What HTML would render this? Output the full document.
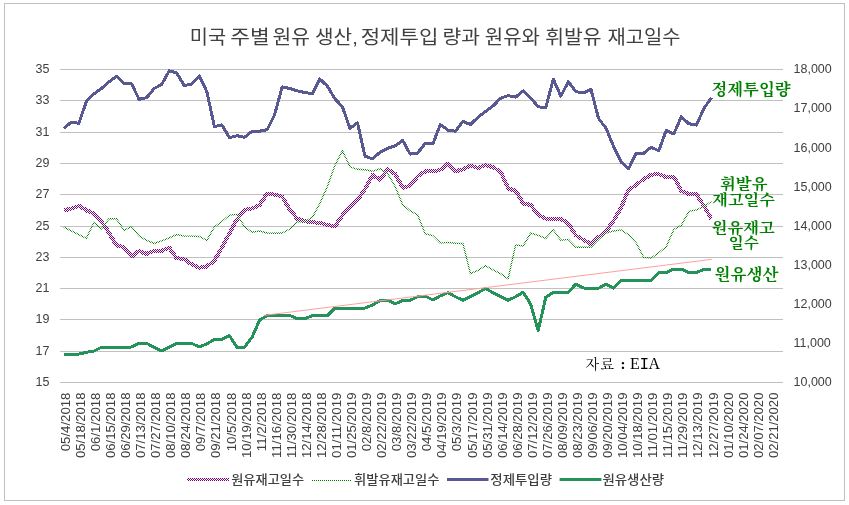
<!DOCTYPE html><html><head><meta charset="utf-8"><style>html,body{margin:0;padding:0;background:#fff;width:849px;height:505px;overflow:hidden}svg{display:block}.s{font-family:"Liberation Sans","Noto Sans CJK KR",sans-serif}.k{font-family:"Liberation Sans","Noto Sans CJK KR",sans-serif}.m{font-family:"Liberation Serif","Noto Serif CJK SC",serif}</style></head><body>
<svg width="849" height="505" viewBox="0 0 849 505">
<defs><pattern id="chk" patternUnits="userSpaceOnUse" width="2" height="2"><rect x="0" y="0" width="1" height="1" fill="#800080"/><rect x="1" y="1" width="1" height="1" fill="#800080"/></pattern><pattern id="chg" patternUnits="userSpaceOnUse" width="2" height="2"><rect x="0" y="0" width="1" height="1" fill="#007f00"/><rect x="1" y="1" width="1" height="1" fill="#007f00"/></pattern></defs>
<rect x="0" y="0" width="849" height="505" fill="#fff"/>
<rect x="4.5" y="3.5" width="840" height="497" fill="none" stroke="#c0c0c0" stroke-width="1"/>
<g><text x="189.7" y="43.8" class="k" font-size="18.8" fill="#404040" textLength="36.4" lengthAdjust="spacingAndGlyphs">미국</text><text x="230.2" y="43.8" class="k" font-size="18.8" fill="#404040" textLength="39.4" lengthAdjust="spacingAndGlyphs">주별</text><text x="272.6" y="43.8" class="k" font-size="18.8" fill="#404040" textLength="37.4" lengthAdjust="spacingAndGlyphs">원유</text><text x="315.0" y="43.8" class="k" font-size="18.8" fill="#404040" textLength="42.8" lengthAdjust="spacingAndGlyphs">생산,</text><text x="360.7" y="43.8" class="k" font-size="18.8" fill="#404040" textLength="77.7" lengthAdjust="spacingAndGlyphs">정제투입</text><text x="442.6" y="43.8" class="k" font-size="18.8" fill="#404040" textLength="37.4" lengthAdjust="spacingAndGlyphs">량과</text><text x="484.8" y="43.8" class="k" font-size="18.8" fill="#404040" textLength="55.1" lengthAdjust="spacingAndGlyphs">원유와</text><text x="545.2" y="43.8" class="k" font-size="18.8" fill="#404040" textLength="56.4" lengthAdjust="spacingAndGlyphs">휘발유</text><text x="607.4" y="43.8" class="k" font-size="18.8" fill="#404040" textLength="73.1" lengthAdjust="spacingAndGlyphs">재고일수</text></g>
<line x1="60" y1="69.5" x2="783" y2="69.5" stroke="#c0c0c0" stroke-width="1"/>
<line x1="60" y1="100.5" x2="783" y2="100.5" stroke="#c0c0c0" stroke-width="1"/>
<line x1="60" y1="132.5" x2="783" y2="132.5" stroke="#c0c0c0" stroke-width="1"/>
<line x1="60" y1="163.5" x2="783" y2="163.5" stroke="#c0c0c0" stroke-width="1"/>
<line x1="60" y1="194.5" x2="783" y2="194.5" stroke="#c0c0c0" stroke-width="1"/>
<line x1="60" y1="226.5" x2="783" y2="226.5" stroke="#c0c0c0" stroke-width="1"/>
<line x1="60" y1="257.5" x2="783" y2="257.5" stroke="#c0c0c0" stroke-width="1"/>
<line x1="60" y1="288.5" x2="783" y2="288.5" stroke="#c0c0c0" stroke-width="1"/>
<line x1="60" y1="319.5" x2="783" y2="319.5" stroke="#c0c0c0" stroke-width="1"/>
<line x1="60" y1="351.5" x2="783" y2="351.5" stroke="#c0c0c0" stroke-width="1"/>
<line x1="60" y1="382.5" x2="783" y2="382.5" stroke="#c0c0c0" stroke-width="1"/>
<text x="49.5" y="73.0" text-anchor="end" class="s" font-size="12.5" fill="#404040">35</text>
<text x="49.5" y="104.0" text-anchor="end" class="s" font-size="12.5" fill="#404040">33</text>
<text x="49.5" y="136.0" text-anchor="end" class="s" font-size="12.5" fill="#404040">31</text>
<text x="49.5" y="167.0" text-anchor="end" class="s" font-size="12.5" fill="#404040">29</text>
<text x="49.5" y="198.0" text-anchor="end" class="s" font-size="12.5" fill="#404040">27</text>
<text x="49.5" y="230.0" text-anchor="end" class="s" font-size="12.5" fill="#404040">25</text>
<text x="49.5" y="261.0" text-anchor="end" class="s" font-size="12.5" fill="#404040">23</text>
<text x="49.5" y="292.0" text-anchor="end" class="s" font-size="12.5" fill="#404040">21</text>
<text x="49.5" y="323.0" text-anchor="end" class="s" font-size="12.5" fill="#404040">19</text>
<text x="49.5" y="355.0" text-anchor="end" class="s" font-size="12.5" fill="#404040">17</text>
<text x="49.5" y="386.0" text-anchor="end" class="s" font-size="12.5" fill="#404040">15</text>
<text x="793.5" y="73.3" class="s" font-size="12.5" fill="#404040">18,000</text>
<text x="793.5" y="112.4" class="s" font-size="12.5" fill="#404040">17,000</text>
<text x="793.5" y="151.5" class="s" font-size="12.5" fill="#404040">16,000</text>
<text x="793.5" y="190.6" class="s" font-size="12.5" fill="#404040">15,000</text>
<text x="793.5" y="229.7" class="s" font-size="12.5" fill="#404040">14,000</text>
<text x="793.5" y="268.9" class="s" font-size="12.5" fill="#404040">13,000</text>
<text x="793.5" y="308.0" class="s" font-size="12.5" fill="#404040">12,000</text>
<text x="793.5" y="347.1" class="s" font-size="12.5" fill="#404040">11,000</text>
<text x="793.5" y="386.2" class="s" font-size="12.5" fill="#404040">10,000</text>
<text transform="translate(69.87,392.6) rotate(-90)" text-anchor="end" class="s" font-size="12" fill="#404040" textLength="58.7" lengthAdjust="spacingAndGlyphs">05/4/2018</text>
<text transform="translate(84.93,392.6) rotate(-90)" text-anchor="end" class="s" font-size="12" fill="#404040" textLength="65.4" lengthAdjust="spacingAndGlyphs">05/18/2018</text>
<text transform="translate(99.99,392.6) rotate(-90)" text-anchor="end" class="s" font-size="12" fill="#404040" textLength="58.7" lengthAdjust="spacingAndGlyphs">06/1/2018</text>
<text transform="translate(115.06,392.6) rotate(-90)" text-anchor="end" class="s" font-size="12" fill="#404040" textLength="65.4" lengthAdjust="spacingAndGlyphs">06/15/2018</text>
<text transform="translate(130.12,392.6) rotate(-90)" text-anchor="end" class="s" font-size="12" fill="#404040" textLength="65.4" lengthAdjust="spacingAndGlyphs">06/29/2018</text>
<text transform="translate(145.18,392.6) rotate(-90)" text-anchor="end" class="s" font-size="12" fill="#404040" textLength="65.4" lengthAdjust="spacingAndGlyphs">07/13/2018</text>
<text transform="translate(160.24,392.6) rotate(-90)" text-anchor="end" class="s" font-size="12" fill="#404040" textLength="65.4" lengthAdjust="spacingAndGlyphs">07/27/2018</text>
<text transform="translate(175.30,392.6) rotate(-90)" text-anchor="end" class="s" font-size="12" fill="#404040" textLength="65.4" lengthAdjust="spacingAndGlyphs">08/10/2018</text>
<text transform="translate(190.37,392.6) rotate(-90)" text-anchor="end" class="s" font-size="12" fill="#404040" textLength="65.4" lengthAdjust="spacingAndGlyphs">08/24/2018</text>
<text transform="translate(205.43,392.6) rotate(-90)" text-anchor="end" class="s" font-size="12" fill="#404040" textLength="58.7" lengthAdjust="spacingAndGlyphs">09/7/2018</text>
<text transform="translate(220.49,392.6) rotate(-90)" text-anchor="end" class="s" font-size="12" fill="#404040" textLength="65.4" lengthAdjust="spacingAndGlyphs">09/21/2018</text>
<text transform="translate(235.55,392.6) rotate(-90)" text-anchor="end" class="s" font-size="12" fill="#404040" textLength="58.7" lengthAdjust="spacingAndGlyphs">10/5/2018</text>
<text transform="translate(250.61,392.6) rotate(-90)" text-anchor="end" class="s" font-size="12" fill="#404040" textLength="65.4" lengthAdjust="spacingAndGlyphs">10/19/2018</text>
<text transform="translate(265.68,392.6) rotate(-90)" text-anchor="end" class="s" font-size="12" fill="#404040" textLength="58.7" lengthAdjust="spacingAndGlyphs">11/2/2018</text>
<text transform="translate(280.74,392.6) rotate(-90)" text-anchor="end" class="s" font-size="12" fill="#404040" textLength="65.4" lengthAdjust="spacingAndGlyphs">11/16/2018</text>
<text transform="translate(295.80,392.6) rotate(-90)" text-anchor="end" class="s" font-size="12" fill="#404040" textLength="65.4" lengthAdjust="spacingAndGlyphs">11/30/2018</text>
<text transform="translate(310.86,392.6) rotate(-90)" text-anchor="end" class="s" font-size="12" fill="#404040" textLength="65.4" lengthAdjust="spacingAndGlyphs">12/14/2018</text>
<text transform="translate(325.92,392.6) rotate(-90)" text-anchor="end" class="s" font-size="12" fill="#404040" textLength="65.4" lengthAdjust="spacingAndGlyphs">12/28/2018</text>
<text transform="translate(340.99,392.6) rotate(-90)" text-anchor="end" class="s" font-size="12" fill="#404040" textLength="65.4" lengthAdjust="spacingAndGlyphs">01/11/2019</text>
<text transform="translate(356.05,392.6) rotate(-90)" text-anchor="end" class="s" font-size="12" fill="#404040" textLength="65.4" lengthAdjust="spacingAndGlyphs">01/25/2019</text>
<text transform="translate(371.11,392.6) rotate(-90)" text-anchor="end" class="s" font-size="12" fill="#404040" textLength="58.7" lengthAdjust="spacingAndGlyphs">02/8/2019</text>
<text transform="translate(386.17,392.6) rotate(-90)" text-anchor="end" class="s" font-size="12" fill="#404040" textLength="65.4" lengthAdjust="spacingAndGlyphs">02/22/2019</text>
<text transform="translate(401.23,392.6) rotate(-90)" text-anchor="end" class="s" font-size="12" fill="#404040" textLength="58.7" lengthAdjust="spacingAndGlyphs">03/8/2019</text>
<text transform="translate(416.30,392.6) rotate(-90)" text-anchor="end" class="s" font-size="12" fill="#404040" textLength="65.4" lengthAdjust="spacingAndGlyphs">03/22/2019</text>
<text transform="translate(431.36,392.6) rotate(-90)" text-anchor="end" class="s" font-size="12" fill="#404040" textLength="58.7" lengthAdjust="spacingAndGlyphs">04/5/2019</text>
<text transform="translate(446.42,392.6) rotate(-90)" text-anchor="end" class="s" font-size="12" fill="#404040" textLength="65.4" lengthAdjust="spacingAndGlyphs">04/19/2019</text>
<text transform="translate(461.48,392.6) rotate(-90)" text-anchor="end" class="s" font-size="12" fill="#404040" textLength="58.7" lengthAdjust="spacingAndGlyphs">05/3/2019</text>
<text transform="translate(476.54,392.6) rotate(-90)" text-anchor="end" class="s" font-size="12" fill="#404040" textLength="65.4" lengthAdjust="spacingAndGlyphs">05/17/2019</text>
<text transform="translate(491.61,392.6) rotate(-90)" text-anchor="end" class="s" font-size="12" fill="#404040" textLength="65.4" lengthAdjust="spacingAndGlyphs">05/31/2019</text>
<text transform="translate(506.67,392.6) rotate(-90)" text-anchor="end" class="s" font-size="12" fill="#404040" textLength="65.4" lengthAdjust="spacingAndGlyphs">06/14/2019</text>
<text transform="translate(521.73,392.6) rotate(-90)" text-anchor="end" class="s" font-size="12" fill="#404040" textLength="65.4" lengthAdjust="spacingAndGlyphs">06/28/2019</text>
<text transform="translate(536.79,392.6) rotate(-90)" text-anchor="end" class="s" font-size="12" fill="#404040" textLength="65.4" lengthAdjust="spacingAndGlyphs">07/12/2019</text>
<text transform="translate(551.85,392.6) rotate(-90)" text-anchor="end" class="s" font-size="12" fill="#404040" textLength="65.4" lengthAdjust="spacingAndGlyphs">07/26/2019</text>
<text transform="translate(566.92,392.6) rotate(-90)" text-anchor="end" class="s" font-size="12" fill="#404040" textLength="65.4" lengthAdjust="spacingAndGlyphs">08/09/2019</text>
<text transform="translate(581.98,392.6) rotate(-90)" text-anchor="end" class="s" font-size="12" fill="#404040" textLength="65.4" lengthAdjust="spacingAndGlyphs">08/23/2019</text>
<text transform="translate(597.04,392.6) rotate(-90)" text-anchor="end" class="s" font-size="12" fill="#404040" textLength="65.4" lengthAdjust="spacingAndGlyphs">09/06/2019</text>
<text transform="translate(612.10,392.6) rotate(-90)" text-anchor="end" class="s" font-size="12" fill="#404040" textLength="65.4" lengthAdjust="spacingAndGlyphs">09/20/2019</text>
<text transform="translate(627.16,392.6) rotate(-90)" text-anchor="end" class="s" font-size="12" fill="#404040" textLength="65.4" lengthAdjust="spacingAndGlyphs">10/04/2019</text>
<text transform="translate(642.23,392.6) rotate(-90)" text-anchor="end" class="s" font-size="12" fill="#404040" textLength="65.4" lengthAdjust="spacingAndGlyphs">10/18/2019</text>
<text transform="translate(657.29,392.6) rotate(-90)" text-anchor="end" class="s" font-size="12" fill="#404040" textLength="65.4" lengthAdjust="spacingAndGlyphs">11/01/2019</text>
<text transform="translate(672.35,392.6) rotate(-90)" text-anchor="end" class="s" font-size="12" fill="#404040" textLength="65.4" lengthAdjust="spacingAndGlyphs">11/15/2019</text>
<text transform="translate(687.41,392.6) rotate(-90)" text-anchor="end" class="s" font-size="12" fill="#404040" textLength="65.4" lengthAdjust="spacingAndGlyphs">11/29/2019</text>
<text transform="translate(702.47,392.6) rotate(-90)" text-anchor="end" class="s" font-size="12" fill="#404040" textLength="65.4" lengthAdjust="spacingAndGlyphs">12/13/2019</text>
<text transform="translate(717.54,392.6) rotate(-90)" text-anchor="end" class="s" font-size="12" fill="#404040" textLength="65.4" lengthAdjust="spacingAndGlyphs">12/27/2019</text>
<text transform="translate(732.60,392.6) rotate(-90)" text-anchor="end" class="s" font-size="12" fill="#404040" textLength="65.4" lengthAdjust="spacingAndGlyphs">01/10/2020</text>
<text transform="translate(747.66,392.6) rotate(-90)" text-anchor="end" class="s" font-size="12" fill="#404040" textLength="65.4" lengthAdjust="spacingAndGlyphs">01/24/2020</text>
<text transform="translate(762.72,392.6) rotate(-90)" text-anchor="end" class="s" font-size="12" fill="#404040" textLength="65.4" lengthAdjust="spacingAndGlyphs">02/07/2020</text>
<text transform="translate(777.78,392.6) rotate(-90)" text-anchor="end" class="s" font-size="12" fill="#404040" textLength="65.4" lengthAdjust="spacingAndGlyphs">02/21/2020</text>
<polyline points="63.77,210.30 71.30,208.70 78.83,205.80 86.36,210.30 93.89,213.40 101.43,221.70 108.96,232.70 116.49,245.70 124.02,247.00 131.55,256.50 139.08,250.90 146.61,254.10 154.14,250.60 161.67,250.70 169.20,247.70 176.73,258.30 184.27,259.10 191.80,264.40 199.33,267.80 206.86,266.50 214.39,260.50 221.92,247.50 229.45,233.30 236.98,219.30 244.51,210.10 252.05,208.50 259.58,205.00 267.11,193.50 274.64,194.60 282.17,196.60 289.70,209.50 297.23,218.80 304.76,221.30 312.29,222.00 319.82,223.00 327.35,224.80 334.89,226.50 342.42,215.30 349.95,207.00 357.48,200.30 365.01,189.10 372.54,175.10 380.07,179.60 387.60,169.30 395.13,173.80 402.66,187.70 410.20,185.60 417.73,176.10 425.26,171.40 432.79,171.40 440.32,169.80 447.85,163.90 455.38,171.40 462.91,169.30 470.44,165.50 477.97,168.20 485.51,165.00 493.04,167.40 500.57,171.40 508.10,188.30 515.63,190.90 523.16,203.40 530.69,205.00 538.22,214.50 545.75,218.80 553.28,218.80 560.82,218.80 568.35,223.50 575.88,235.40 583.41,239.80 590.94,244.10 598.47,237.30 606.00,231.40 613.53,220.90 621.06,207.60 628.59,189.80 636.13,185.00 643.66,179.00 651.19,174.70 658.72,174.20 666.25,177.10 673.78,176.60 681.31,190.90 688.84,194.00 696.37,194.00 703.90,205.90 711.44,218.90" fill="none" stroke="url(#chk)" stroke-width="4" stroke-linejoin="round" shape-rendering="crispEdges"/>
<polyline points="63.77,227.20 71.30,230.80 78.83,234.60 86.36,238.30 93.89,222.50 101.43,228.80 108.96,218.80 116.49,218.80 124.02,230.40 131.55,226.70 139.08,235.90 146.61,240.30 154.14,243.50 161.67,240.80 169.20,237.90 176.73,234.50 184.27,236.10 191.80,236.10 199.33,236.50 206.86,240.30 214.39,226.90 221.92,221.50 229.45,215.10 236.98,214.40 244.51,226.70 252.05,232.20 259.58,231.00 267.11,233.00 274.64,233.30 282.17,233.00 289.70,229.00 297.23,221.90 304.76,221.70 312.29,217.40 319.82,203.50 327.35,186.50 334.89,165.50 342.42,150.70 349.95,166.80 357.48,169.30 365.01,169.80 372.54,171.30 380.07,168.80 387.60,173.60 395.13,186.50 402.66,204.70 410.20,210.90 417.73,215.00 425.26,234.00 432.79,235.60 440.32,243.10 447.85,242.40 455.38,243.20 462.91,243.50 470.44,273.60 477.97,270.40 485.51,265.70 493.04,269.90 500.57,273.60 508.10,278.80 515.63,245.00 523.16,245.90 530.69,233.10 538.22,235.40 545.75,238.30 553.28,229.90 560.82,240.20 568.35,239.40 575.88,247.30 583.41,247.30 590.94,247.30 598.47,239.40 606.00,233.00 613.53,231.00 621.06,229.90 628.59,234.70 636.13,242.80 643.66,257.40 651.19,258.10 658.72,252.70 666.25,246.70 673.78,229.50 681.31,225.40 688.84,211.40 696.37,209.90 703.90,206.70 711.44,201.50" fill="none" stroke="url(#chg)" stroke-width="1.4"/>
<polyline points="63.77,128.40 71.30,122.10 78.83,123.30 86.36,101.50 93.89,94.00 101.43,88.50 108.96,81.80 116.49,76.30 124.02,83.40 131.55,83.70 139.08,99.30 146.61,97.70 154.14,88.50 161.67,84.50 169.20,70.80 176.73,73.00 184.27,85.60 191.80,84.10 199.33,75.80 206.86,91.70 214.39,126.50 221.92,124.90 229.45,137.60 236.98,135.70 244.51,137.30 252.05,131.20 259.58,131.20 267.11,129.70 274.64,114.60 282.17,86.90 289.70,88.50 297.23,90.90 304.76,92.50 312.29,93.70 319.82,79.00 327.35,86.10 334.89,98.80 342.42,106.70 349.95,128.40 357.48,122.80 365.01,156.20 372.54,158.90 380.07,152.20 387.60,148.30 395.13,145.90 402.66,140.40 410.20,154.10 417.73,153.00 425.26,143.10 432.79,144.00 440.32,124.50 447.85,130.10 455.38,131.20 462.91,121.40 470.44,124.50 477.97,117.30 485.51,111.40 493.04,105.90 500.57,98.30 508.10,95.60 515.63,97.20 523.16,90.90 530.69,98.00 538.22,106.70 545.75,108.00 553.28,79.00 560.82,96.10 568.35,81.70 575.88,91.70 583.41,92.90 590.94,89.20 598.47,118.30 606.00,128.30 613.53,146.30 621.06,162.00 628.59,168.80 636.13,153.30 643.66,153.30 651.19,147.20 658.72,150.90 666.25,130.30 673.78,134.00 681.31,116.80 688.84,123.70 696.37,125.10 703.90,108.60 711.44,97.50" fill="none" stroke="#585893" stroke-width="3" stroke-linejoin="round" shape-rendering="crispEdges"/>
<polyline points="63.77,354.10 71.30,354.10 78.83,354.10 86.36,352.30 93.89,351.00 101.43,347.30 108.96,347.30 116.49,347.30 124.02,347.30 131.55,347.00 139.08,343.30 146.61,343.30 154.14,347.30 161.67,351.00 169.20,347.00 176.73,343.60 184.27,343.50 191.80,343.50 199.33,347.00 206.86,343.80 214.39,339.40 221.92,339.40 229.45,335.60 236.98,347.30 244.51,347.30 252.05,337.20 259.58,320.10 267.11,315.60 274.64,315.30 282.17,315.30 289.70,315.40 297.23,318.80 304.76,318.80 312.29,315.60 319.82,315.60 327.35,315.60 334.89,308.00 342.42,308.00 349.95,308.00 357.48,308.00 365.01,308.00 372.54,305.10 380.07,300.40 387.60,300.10 395.13,304.00 402.66,300.30 410.20,300.30 417.73,296.70 425.26,296.20 432.79,299.90 440.32,295.90 447.85,292.70 455.38,296.70 462.91,300.30 470.44,296.70 477.97,292.70 485.51,288.50 493.04,292.70 500.57,296.70 508.10,300.30 515.63,296.70 523.16,292.20 530.69,304.20 538.22,330.50 545.75,297.30 553.28,292.30 560.82,292.40 568.35,292.40 575.88,284.00 583.41,288.00 590.94,288.30 598.47,288.30 606.00,284.00 613.53,288.20 621.06,280.30 628.59,280.30 636.13,280.40 643.66,280.40 651.19,280.40 658.72,272.50 666.25,272.50 673.78,269.00 681.31,269.00 688.84,272.50 696.37,272.50 703.90,269.30 711.44,269.30" fill="none" stroke="#249259" stroke-width="3" stroke-linejoin="round" shape-rendering="crispEdges"/>
<line x1="264" y1="315.35" x2="711.6" y2="259.36" stroke="#ff9f9f" stroke-width="1"/>
<text x="711.5" y="94.8" class="m" font-weight="bold" font-size="16" fill="#008000" text-anchor="start" textLength="79" lengthAdjust="spacingAndGlyphs">정제투입량</text>
<text x="720" y="189.3" class="m" font-weight="bold" font-size="14.5" fill="#008000" text-anchor="start" textLength="47.5" lengthAdjust="spacingAndGlyphs">휘발유</text>
<text x="712.3" y="205.3" class="m" font-weight="bold" font-size="14.5" fill="#008000" text-anchor="start" textLength="62.5" lengthAdjust="spacingAndGlyphs">재고일수</text>
<text x="711.8" y="232.8" class="m" font-weight="bold" font-size="14.5" fill="#008000" text-anchor="start" textLength="63" lengthAdjust="spacingAndGlyphs">원유재고</text>
<text x="728.5" y="247.5" class="m" font-weight="bold" font-size="14.5" fill="#008000" text-anchor="start" textLength="30.3" lengthAdjust="spacingAndGlyphs">일수</text>
<text x="714.5" y="280.2" class="m" font-weight="bold" font-size="15.5" fill="#008000" text-anchor="start" textLength="64" lengthAdjust="spacingAndGlyphs">원유생산</text>
<text y="369" class="m" fill="#000"><tspan x="585.4 600.6" font-size="14">자료</tspan><tspan x="614 620.6 626" font-size="15" font-weight="bold"> : </tspan><tspan x="630" font-size="16" style="font-family:'Liberation Serif',serif">E</tspan><tspan x="639.4" font-size="16" style="font-family:'Liberation Mono',monospace">I</tspan><tspan x="648.4" font-size="16" style="font-family:'Liberation Serif',serif">A</tspan></text>
<rect x="187" y="478" width="42" height="3" fill="url(#chk)"/>
<text x="231.2" y="484.3" class="k" font-size="12.6" font-weight="500" fill="#404040" textLength="73" lengthAdjust="spacingAndGlyphs">원유재고일수</text>
<rect x="312" y="480" width="39" height="1" fill="url(#chg)"/>
<text x="354" y="484.3" class="k" font-size="12.6" font-weight="500" fill="#404040" textLength="85.5" lengthAdjust="spacingAndGlyphs">휘발유재고일수</text>
<rect x="447" y="478" width="41.5" height="3" fill="#585893"/>
<text x="490.3" y="484.3" class="k" font-size="12.6" font-weight="500" fill="#404040" textLength="61.8" lengthAdjust="spacingAndGlyphs">정제투입량</text>
<rect x="559.6" y="478" width="41.8" height="3" fill="#249259"/>
<text x="602.4" y="484.3" class="k" font-size="12.6" font-weight="500" fill="#404040" textLength="61.8" lengthAdjust="spacingAndGlyphs">원유생산량</text>
</svg></body></html>
